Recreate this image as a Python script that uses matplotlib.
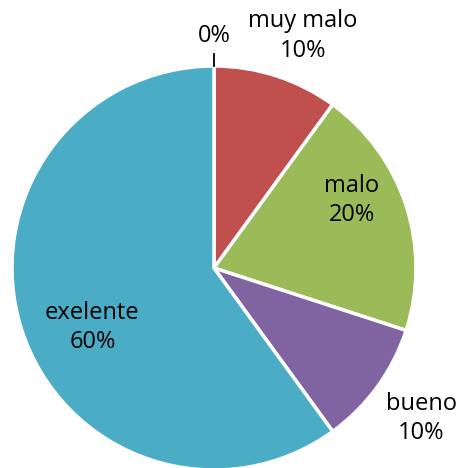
import numpy as np
import matplotlib.pyplot as plt

categorias = ['', 'muy malo', 'malo', 'bueno', 'exelente']
porcentajes = [0, 10, 20, 10, 60]
colores = ['#4BACC6', '#C0504D', '#9BBB59', '#8064A2', '#4BACC6']

W, H = 462, 468
fig = plt.figure(figsize=(W / 100, H / 100), dpi=100)
ax = fig.add_axes([0, 0, 1, 1])

centro = (214, H - 268)
radio = 202

wedges, _ = ax.pie(porcentajes, colors=colores, startangle=90, counterclock=False,
                   center=centro, radius=radio, frame=True,
                   wedgeprops=dict(edgecolor='white', linewidth=2.5))
ax.set_xlim(0, W)
ax.set_ylim(0, H)
ax.set_aspect('equal')
ax.axis('off')

# distancia (en radios) y giro extra de cada etiqueta respecto al centro de su sector
dist = [1.15, 1.23, 0.76, 1.27, 0.67]
giro = [0, -3, 8, 0, 8]

total = sum(porcentajes)
acum = 0
for nombre, p, d, g in zip(categorias, porcentajes, dist, giro):
    medio = 90 - 360 * (acum + p / 2) / total + g
    acum += p
    x = centro[0] + d * radio * np.cos(np.radians(medio))
    y = centro[1] + d * radio * np.sin(np.radians(medio))
    txt = f'{nombre}\n{p}%' if nombre else f'{p}%'
    ax.text(x, y, txt, ha='center', va='center', fontsize=17,
            family='Open Sans', linespacing=1.3, color='black')
    if p == 0:
        ax.plot([centro[0], centro[0]], [centro[1] + radio, centro[1] + radio + 12],
                color='black', lw=1.3)

fig.savefig('out.png', dpi=100)
